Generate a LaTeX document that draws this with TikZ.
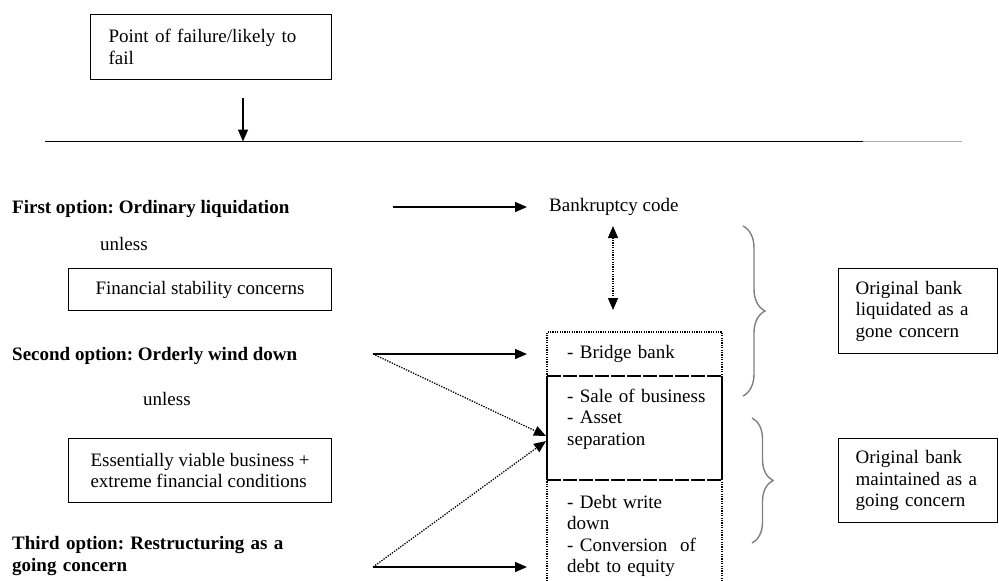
\documentclass[tikz,border=0pt]{standalone}
\usepackage{fontspec}
\setmainfont{Liberation Serif}
\usetikzlibrary{arrows.meta,decorations.pathreplacing}
\frenchspacing
\begin{document}
\begin{tikzpicture}[x=1pt,y=-1pt,
  font=\fontsize{19}{21.5}\selectfont,
  txt/.style={inner sep=0pt,anchor=base west},
  optxt/.style={txt,font=\fontsize{19}{22.5}\selectfont\bfseries},
  boxnode/.style={draw,line width=1.2pt,inner ysep=0pt,anchor=north west,align=left},
  tip/.style={-{Triangle[length=12pt,width=10pt]}},
  tips/.style={{Triangle[length=12pt,width=10pt]}-{Triangle[length=12pt,width=10pt]}},
  solidarrow/.style={tip,line width=1.4pt},
  dotarrow/.style={tip,line width=1.3pt,dash pattern=on 1.3pt off 1.3pt},
  dotline/.style={line width=1.1pt,dash pattern=on 1.2pt off 1.2pt},
  curly/.style={decorate,gray,line width=1.4pt,decoration={brace,amplitude=#1}}]
\useasboundingbox (0,0) rectangle (999,581);
\node[boxnode,text width=205pt,inner xsep=18pt,minimum height=65pt] (fail) at (90,14) {Point of failure/likely to\\fail};
\coordinate (drop) at (243,98);
\coordinate (ruleL) at (45,141.5);
\coordinate (ruleM) at (863,141.5);
\coordinate (ruleR) at (962,141.5);
\draw[line width=1.3pt] (ruleL) -- (ruleM);
\draw[line width=1.3pt,gray!60] (ruleM) -- (ruleR);
\draw[solidarrow] (drop) -- (drop |- ruleL);

\node[optxt] (opt1) at (12,213) {First option: Ordinary liquidation};
\node[txt] (unless1) at (100,250) {unless};
\node[boxnode,align=center,minimum width=263pt,minimum height=42pt] (fin) at (68,268) {Financial stability concerns};
\node[optxt] (opt2) at (12,360) {Second option: Orderly wind down};
\node[txt] (unless2) at (143,405) {unless};
\node[boxnode,minimum width=263pt,minimum height=64pt] (viable) at (68,438) {Essentially viable business +\\extreme financial conditions};
\node[optxt,text width=320pt,align=left] (opt3) at (12,549) {Third option: Restructuring as a\\going concern};

\node[txt] (bank) at (549,211) {Bankruptcy code};
\draw[dotline] (547,581) -- (547,332) -- (722,332) -- (722,581);
\draw[line width=1.2pt] (547,376) -- (547,480) (722,376) -- (722,480);
\draw[line width=1.2pt,dash pattern=on 14pt off 2pt] (547,376) -- (722,376) (547,480) -- (722,480);
\node[txt,text width=150pt,align=left] (bridge) at (567,358) {- Bridge bank};
\node[txt,text width=150pt,align=left] (sale) at (567,402) {- Sale of business\\- Asset\\separation};
\node[txt,text width=150pt,align=left] (debt) at (567,508) {- Debt write\\down\\- Conversion\ \ of\\debt to equity};

\coordinate (o1s) at (393,207);
\coordinate (o1e) at (527,207);
\coordinate (o2s) at (373,354);
\coordinate (o2e) at (527,354);
\coordinate (o3s) at (373,567);
\coordinate (o3e) at (527,567);
\coordinate (hitA) at (546,436);
\coordinate (hitB) at (546,441);
\coordinate (bankdn) at (613,226);
\coordinate (boxup) at (613,310);
\draw[solidarrow] (o1s) -- (o1e);
\draw[solidarrow] (o2s) -- (o2e);
\draw[solidarrow] (o3s) -- (o3e);
\draw[dotarrow] (o2s) -- (hitA);
\draw[dotarrow] (o3s) -- (hitB);
\draw[dotline,line width=1.3pt,tips] (bankdn) -- (boxup);

\draw[curly=22pt] (743,226) -- (743,396);
\draw[curly=21pt] (752,418) -- (752,543);
\node[boxnode,text width=125pt,inner xsep=17pt,minimum height=85pt] (gone) at (838,268) {Original bank\\liquidated as a\\gone concern};
\node[boxnode,text width=125pt,inner xsep=17pt,minimum height=84pt] (going) at (838,438) {Original bank\\maintained as a\\going concern};
\end{tikzpicture}
\end{document}
